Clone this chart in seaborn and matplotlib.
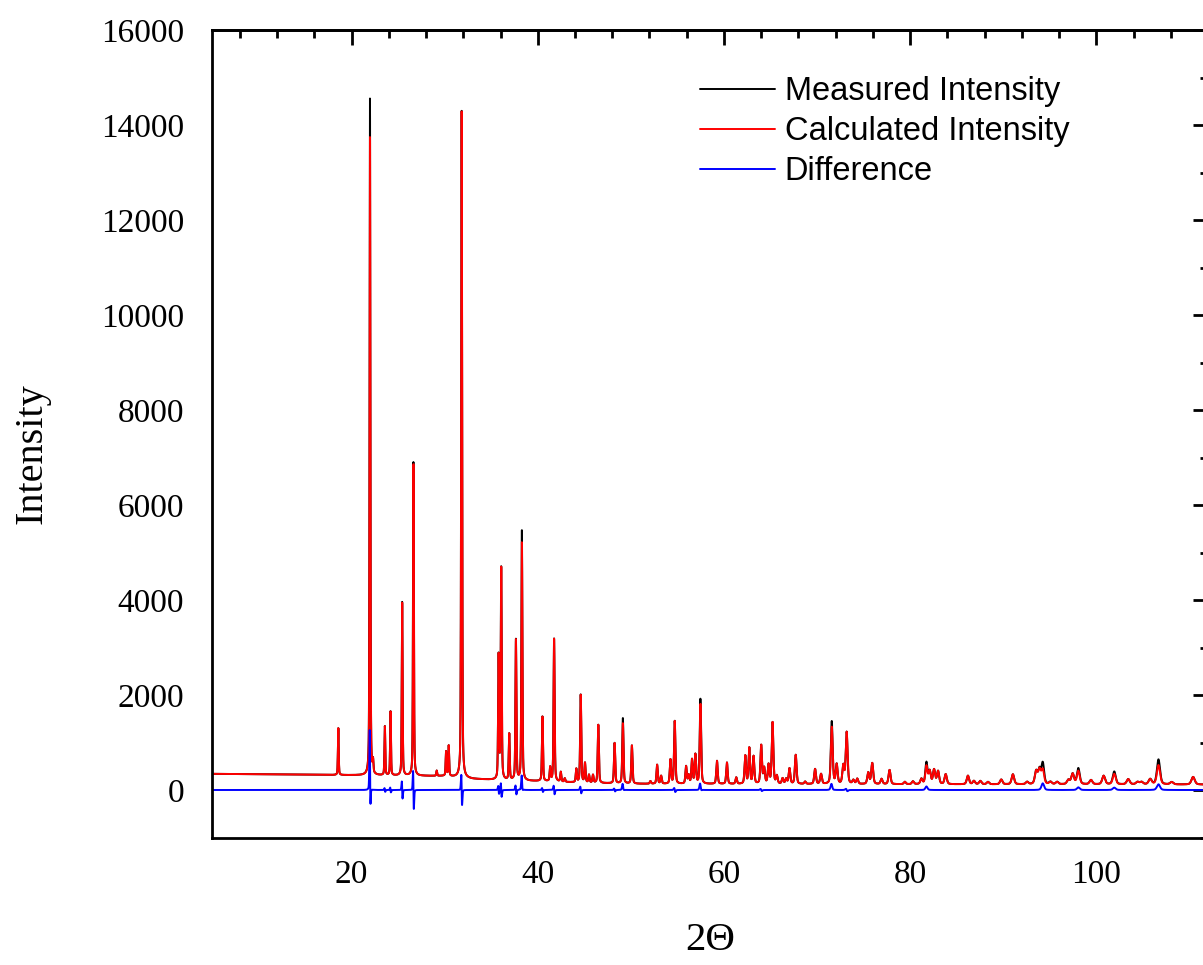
import numpy as np
import pandas as pd
import matplotlib
matplotlib.use("Agg")
import matplotlib.pyplot as plt
from matplotlib.ticker import MultipleLocator
import seaborn as sns

# ---------------- data ----------------
# background (2Theta, intensity)
bg_x = [5, 12, 20, 26, 30, 33, 36, 40, 45, 50, 60, 80, 100, 112]
bg_y = [340, 328, 312, 300, 292, 232, 205, 185, 150, 130, 125, 120, 118, 115]

# peak widths (FWHM in degrees) vs angle
fwhm_x = [5, 20, 40, 60, 80, 100, 112]
fwhm_y = [0.09, 0.10, 0.13, 0.18, 0.26, 0.36, 0.42]

# peak positions and heights above background
peak_pos = [18.57, 21.97, 22.30, 23.57, 24.18, 25.43, 26.64, 29.14, 30.15, 30.43,
            31.82, 35.79, 36.07, 36.93, 37.65, 38.29, 40.50, 41.33, 41.75, 42.47,
            42.90, 44.14, 44.61, 45.07, 45.50, 45.93, 46.50, 48.25, 49.14, 50.11,
            52.10, 52.82, 53.25, 54.25, 54.71, 55.93, 56.21, 56.57, 56.93, 57.47,
            59.25, 60.32, 61.32, 62.29, 62.72, 63.18, 64.00, 64.32, 64.79, 65.22,
            65.68, 66.30, 66.68, 67.04, 67.71, 68.72, 69.79, 70.43, 71.58, 72.11,
            72.82, 73.18, 73.90, 74.32, 75.50, 75.93, 76.93, 77.79, 79.43, 80.30,
            81.21, 81.75, 82.10, 82.57, 83.00, 83.82, 86.21, 86.85, 87.54, 88.36,
            89.79, 91.04, 92.57, 93.54, 93.90, 94.25, 95.07, 95.79, 97.00, 97.46,
            98.07, 99.43, 100.79, 101.93, 103.43, 104.43, 104.86, 105.79, 106.68, 108.10,
            110.40]
meas_amp = [985, 14245, 250, 1030, 1345, 3650, 6600, 110, 515, 640,
            14040, 2600, 4450, 970, 2960, 5260, 1360, 290, 3010, 205,
            75, 280, 1850, 410, 165, 165, 1225, 850, 1375, 805,
            55, 400, 165, 505, 1320, 365, 175, 505, 610, 1785,
            485, 450, 135, 590, 752, 575, 808, 325, 395, 1292,
            165, 115, 105, 325, 612, 50, 315, 210, 1318, 406,
            380, 1087, 80, 110, 240, 440, 110, 300, 50, 60,
            110, 455, 270, 300, 270, 210, 180, 70, 70, 50,
            100, 210, 50, 270, 300, 440, 50, 50, 90, 220,
            336, 90, 180, 270, 110, 50, 50, 110, 526, 50,
            160]
calc_amp = [985, 13500, 250, 1030, 1345, 3650, 6600, 110, 515, 640,
            14040, 2600, 4450, 970, 2960, 5010, 1360, 290, 3010, 205,
            75, 280, 1850, 410, 165, 165, 1225, 850, 1270, 805,
            55, 400, 165, 505, 1320, 365, 175, 505, 610, 1680,
            485, 450, 135, 590, 752, 575, 808, 325, 395, 1292,
            165, 115, 105, 325, 612, 50, 315, 210, 1200, 406,
            380, 1087, 80, 110, 240, 440, 110, 300, 50, 60,
            110, 380, 270, 300, 270, 210, 180, 70, 70, 50,
            100, 210, 50, 270, 300, 300, 50, 50, 90, 220,
            280, 90, 180, 220, 110, 50, 50, 110, 406, 50,
            160]
# small position misfit of the calculated peaks (degrees)
calc_shift = [0.0, 0.004, 0.0, 0.003, 0.003, 0.004, 0.005, 0.0, 0.0, 0.0,
              0.002, 0.003, 0.003, 0.0, 0.003, 0.002, 0.003, 0.0, 0.003, 0.0,
              0.0, 0.0, 0.004, 0.0, 0.0, 0.0, 0.0, 0.004, 0.004, 0.0,
              0.0, 0.0, 0.0, 0.0, 0.004, 0.0, 0.0, 0.0, 0.0, 0.004,
              0.0, 0.0, 0.0, 0.0, 0.0, 0.0, 0.004, 0.0, 0.0, 0.0,
              0.0, 0.0, 0.0, 0.0, 0.0, 0.0, 0.0, 0.0, 0.004, 0.0,
              0.0, 0.004, 0.0, 0.0, 0.0, 0.0, 0.0, 0.0, 0.0, 0.0,
              0.0, 0.0, 0.0, 0.0, 0.0, 0.0, 0.0, 0.0, 0.0, 0.0,
              0.0, 0.0, 0.0, 0.0, 0.0, 0.0, 0.0, 0.0, 0.0, 0.0,
              0.0, 0.0, 0.0, 0.0, 0.0, 0.0, 0.0, 0.0, 0.0, 0.0,
              0.0]

series_labels = ["Measured Intensity", "Calculated Intensity", "Difference"]
series_colors = ["#000000", "#ff0000", "#0000ff"]

# ---------------- build profiles from the peak table ----------------
two_theta = np.arange(5.0, 112.0001, 0.01)
background = np.interp(two_theta, bg_x, bg_y)


def pseudo_voigt(x, x0, w, eta=0.4):
    d2 = 4.0 * (x - x0) ** 2 / w ** 2
    return eta / (1.0 + d2) + (1 - eta) * np.exp(-np.log(2) * d2)


measured = background.copy()
calculated = background.copy()
for p, hm, hc, s in zip(peak_pos, meas_amp, calc_amp, calc_shift):
    w = np.interp(p, fwhm_x, fwhm_y)
    measured += hm * pseudo_voigt(two_theta, p, w)
    calculated += hc * pseudo_voigt(two_theta, p + s, w)
difference = measured - calculated

df = pd.concat([
    pd.DataFrame({"two_theta": two_theta, "intensity": measured, "series": series_labels[0]}),
    pd.DataFrame({"two_theta": two_theta, "intensity": calculated, "series": series_labels[1]}),
    pd.DataFrame({"two_theta": two_theta, "intensity": difference, "series": series_labels[2]}),
], ignore_index=True)

# ---------------- plotting ----------------
sns.set_style("white")
plt.rcParams["font.family"] = ["Liberation Serif", "DejaVu Serif"]
plt.rcParams.update({"text.color": "black", "axes.labelcolor": "black",
                     "xtick.color": "black", "ytick.color": "black",
                     "axes.edgecolor": "black"})

W, H = 1203, 965
fig = plt.figure(figsize=(W / 100, H / 100), dpi=100)
ax = fig.add_axes([212 / W, (H - 837.5) / H, (1208 - 212) / W, (837.5 - 30) / H])

sns.lineplot(data=df, x="two_theta", y="intensity", hue="series",
             hue_order=series_labels, palette=dict(zip(series_labels, series_colors)),
             estimator=None, sort=False, linewidth=1.4, legend=False, ax=ax)

ax.set_xlim(5, 112)
ax.set_ylim(-1000, 16000)
ax.xaxis.set_major_locator(MultipleLocator(20))
ax.xaxis.set_minor_locator(MultipleLocator(4))
ax.yaxis.set_major_locator(MultipleLocator(2000))
ax.yaxis.set_minor_locator(MultipleLocator(1000))

ax.tick_params(which="major", direction="out", length=11, width=2, labelsize=24,
               color="black", labelcolor="black")
ax.tick_params(which="minor", direction="out", length=6, width=2, color="black")
ax.tick_params(axis="x", which="major", pad=5)
ax.tick_params(axis="y", which="major", pad=9)
for sp in ax.spines.values():
    sp.set_linewidth(2)
    sp.set_color("black")

secx = ax.secondary_xaxis("top")
secx.xaxis.set_major_locator(MultipleLocator(20))
secx.xaxis.set_minor_locator(MultipleLocator(4))
secx.tick_params(which="major", direction="in", length=11, width=2, labeltop=False, color="black")
secx.tick_params(which="minor", direction="in", length=6, width=2, color="black")
secy = ax.secondary_yaxis("right")
secy.yaxis.set_major_locator(MultipleLocator(2000))
secy.yaxis.set_minor_locator(MultipleLocator(1000))
secy.tick_params(which="major", direction="in", length=11, width=2, labelright=False, color="black")
secy.tick_params(which="minor", direction="in", length=6, width=2, color="black")
for sec in (secx, secy):
    for sp in sec.spines.values():
        sp.set_linewidth(2)
        sp.set_color("black")

ax.set_xlabel("2Θ", fontsize=29.5, color="black")
ax.set_ylabel("Intensity", fontsize=29, color="black")
ax.xaxis.set_label_coords(0.5, -0.1047)
ax.yaxis.set_label_coords(-0.162, 0.476)

leg = fig.legend(handles=ax.lines[:3], labels=series_labels, loc="upper left",
                 bbox_to_anchor=(700 / W, 1 - 76 / H), frameon=False,
                 prop={"family": "Liberation Sans", "size": 23.5},
                 handlelength=2.3, handletextpad=0.3, labelspacing=0.28,
                 borderpad=0, borderaxespad=0)
for t in leg.get_texts():
    t.set_color("black")

fig.savefig("out.png", dpi=100)
